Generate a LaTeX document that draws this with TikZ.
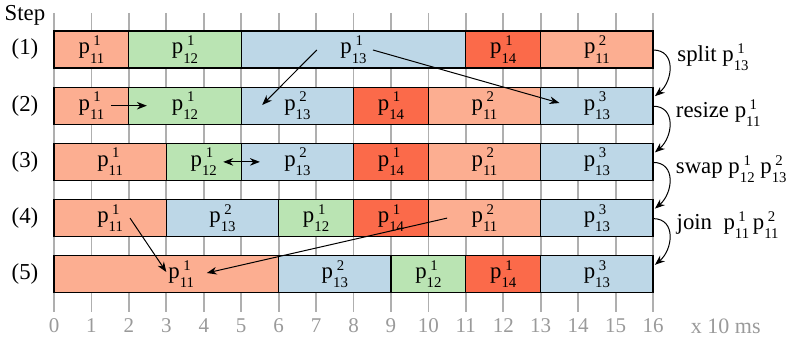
\documentclass[tikz,border=0pt]{standalone}
\usepackage{fontspec}
\setmainfont{Liberation Serif}
\usetikzlibrary{arrows.meta,calc}
\definecolor{cA}{HTML}{FCAE91}
\definecolor{cB}{HTML}{BAE4B3}
\definecolor{cC}{HTML}{BDD7E7}
\definecolor{cD}{HTML}{FB6A4A}
\definecolor{gridc}{HTML}{AFAFAF}
\definecolor{tickc}{HTML}{9A9A9A}
\newcommand{\scr}{\fontsize{7.4}{8}\selectfont}
\newcommand{\pl}[2]{p\setbox0\hbox{\scr #1}\rlap{\hbox to \wd0{\hss\raisebox{4.2pt}{\scr #2}\hss}}\raisebox{-4.6pt}{\box0}}
\newcommand{\blk}[6]{\node[blk,fill=#5,minimum width={(#4-#3)*18.72pt}] (#1) at ({(#3+#4)/2},{49.5+56.2*(#2-1)}) {#6};}
\begin{document}
\begin{tikzpicture}[x=18.72pt,y=-0.5pt,font=\fontsize{11.4}{13}\selectfont,
  blk/.style={draw=black,line width=0.6pt,minimum height=18.5pt,inner sep=0pt,outer sep=0pt},
  arr/.style={-{Stealth[length=5pt,width=3.8pt]},line width=0.5pt},
  darr/.style={{Stealth[length=5pt,width=3.8pt]}-{Stealth[length=5pt,width=3.8pt]},line width=0.5pt},
  gridline/.style={draw=gridc,line width=0.9pt},
  tick/.style={text=tickc,inner sep=0pt,font=\fontsize{10.5}{12}\selectfont},
  lbl/.style={inner sep=0pt}]
\useasboundingbox (-1.44231,0) rectangle (19.65812,341);
% grid
\foreach \t in {0,...,16}{
  \draw[gridline] (\t,13) -- (\t,312);
  \node[tick] (t\t) at (\t,326) {\t};
}
\node[tick,anchor=west,font=\fontsize{11}{12}\selectfont] (unit) at (17.0,326) {x 10 ms};
% left labels
\node[lbl] (step) at (-0.775,15) {Step};
\foreach \i in {1,...,5}{
  \node[lbl] (s\i) at (-0.775,{49.5+56.2*(\i-1)}) {(\i)};
}
% row 1
\blk{r1a}{1}{0}{2}{cA}{\pl{11}{1}}
\blk{r1b}{1}{2}{5}{cB}{\pl{12}{1}}
\blk{r1c}{1}{5}{11}{cC}{\pl{13}{1}}
\blk{r1d}{1}{11}{13}{cD}{\pl{14}{1}}
\blk{r1e}{1}{13}{16}{cA}{\pl{11}{2}}
% row 2
\blk{r2a}{2}{0}{2}{cA}{\pl{11}{1}}
\blk{r2b}{2}{2}{5}{cB}{\pl{12}{1}}
\blk{r2c}{2}{5}{8}{cC}{\pl{13}{2}}
\blk{r2d}{2}{8}{10}{cD}{\pl{14}{1}}
\blk{r2e}{2}{10}{13}{cA}{\pl{11}{2}}
\blk{r2f}{2}{13}{16}{cC}{\pl{13}{3}}
% row 3
\blk{r3a}{3}{0}{3}{cA}{\pl{11}{1}}
\blk{r3b}{3}{3}{5}{cB}{\pl{12}{1}}
\blk{r3c}{3}{5}{8}{cC}{\pl{13}{2}}
\blk{r3d}{3}{8}{10}{cD}{\pl{14}{1}}
\blk{r3e}{3}{10}{13}{cA}{\pl{11}{2}}
\blk{r3f}{3}{13}{16}{cC}{\pl{13}{3}}
% row 4
\blk{r4a}{4}{0}{3}{cA}{\pl{11}{1}}
\blk{r4b}{4}{3}{6}{cC}{\pl{13}{2}}
\blk{r4c}{4}{6}{8}{cB}{\pl{12}{1}}
\blk{r4d}{4}{8}{10}{cD}{\pl{14}{1}}
\blk{r4e}{4}{10}{13}{cA}{\pl{11}{2}}
\blk{r4f}{4}{13}{16}{cC}{\pl{13}{3}}
% row 5
\blk{r5a}{5}{0}{6}{cA}{}
\node[lbl] (l5) at (3.4,274.3) {\pl{11}{1}};
\blk{r5b}{5}{6}{9}{cC}{\pl{13}{2}}
\blk{r5c}{5}{9}{11}{cB}{\pl{12}{1}}
\blk{r5d}{5}{11}{13}{cD}{\pl{14}{1}}
\blk{r5e}{5}{13}{16}{cC}{\pl{13}{3}}
% move arrows
\draw[arr] ($(r1c.center)+(-0.98,0.5)$) -- ($(r2c.center)+(-0.94,-0.7)$);
\draw[arr] ($(r1c.center)+(0.52,0.5)$) -- ($(r2f.center)+(-1.0,-2.7)$);
\draw[arr] ($(r2a.center)+(0.52,0)$) -- ($(r2b.center)+(-1.02,0)$);
\draw[darr] ($(r3b.center)+(0.52,0)$) -- ($(r3c.center)+(-1.0,0)$);
\draw[arr] ($(r4a.center)+(0.53,0)$) -- ($(l5.center)+(-0.4,-2.3)$);
\draw[arr] ($(r4e.center)+(-1.0,0)$) -- ($(l5.center)+(0.68,-1.3)$);
% step arrows
\draw[arr] ($(r1e.east)+(0,0.5)$) to[out=0,in=40,looseness=1.3] ($(r2f.north east)+(0.05,9)$);
\draw[arr] ($(r2f.east)+(0,0.5)$) to[out=0,in=40,looseness=1.3] ($(r3f.north east)+(0.05,9)$);
\draw[arr] ($(r3f.east)+(0,0.5)$) to[out=0,in=40,looseness=1.3] ($(r4f.north east)+(0.05,9)$);
\draw[arr] ($(r4f.east)+(0,0.5)$) to[out=0,in=40,looseness=1.3] ($(r5e.north east)+(0.05,9)$);
% step labels
\node[lbl,anchor=west] (op1) at (16.64,57) {split \pl{13}{1}};
\node[lbl,anchor=west] (op2) at (16.6,113) {resize \pl{11}{1}};
\node[lbl,anchor=west] (op3) at (16.6,169) {swap \pl{12}{1} \pl{13}{2}};
\node[lbl,anchor=west] (op4) at (16.62,225) {join\ \ \pl{11}{1}\,\pl{11}{2}};
\end{tikzpicture}
\end{document}
